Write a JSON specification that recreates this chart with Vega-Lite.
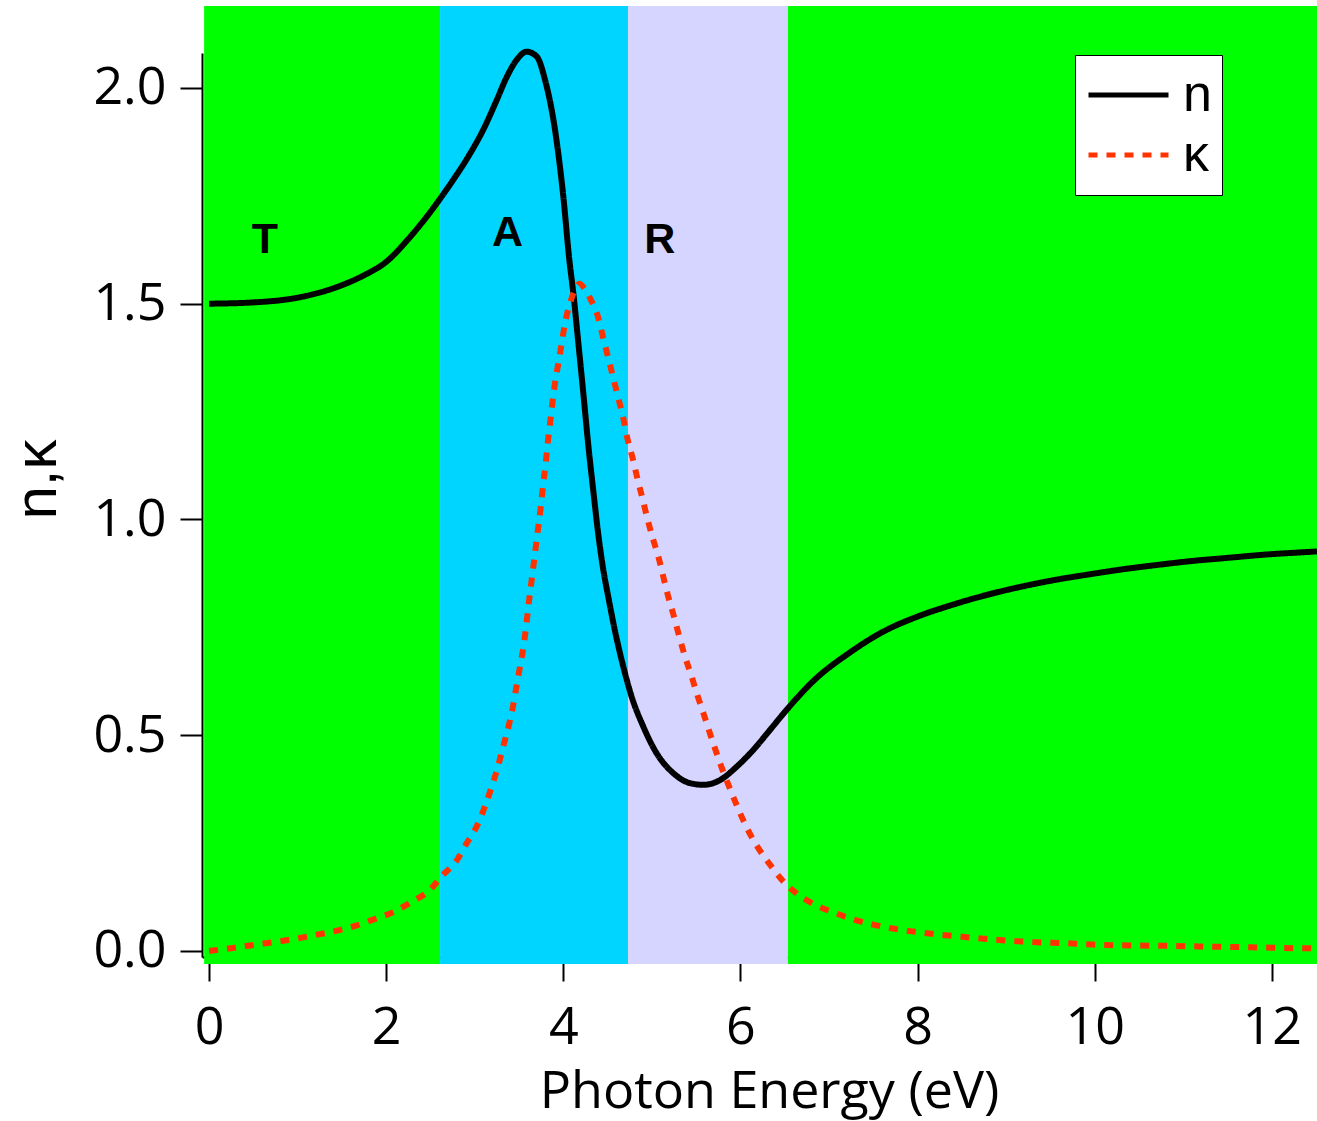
{
  "$schema": "https://vega.github.io/schema/vega-lite/v6.json",
  "width": 1115,
  "height": 904,
  "autosize": {"type": "none"},
  "padding": {"left": 202, "top": 53, "right": 0, "bottom": 164},
  "background": "white",
  "config": {
    "view": {"stroke": null},
    "font": "Open Sans",
    "axisX": {
      "grid": false, "tickSize": 24, "tickWidth": 2, "domainWidth": 2,
      "domainColor": "black", "tickColor": "black",
      "labelColor": "black", "labelFont": "Open Sans", "labelFontSize": 52,
      "labelBaseline": "alphabetic", "labelPadding": 62,
      "labelFlush": false, "labelOverlap": false,
      "titleFont": "Open Sans", "titleFontSize": 52, "titleFontWeight": "normal",
      "titleColor": "black", "titleX": 567, "titleY": 150,
      "titleBaseline": "alphabetic", "titleAlign": "center", "zindex": 1
    },
    "axisY": {
      "grid": false, "tickSize": 22, "tickWidth": 2, "domainWidth": 2,
      "domainColor": "black", "tickColor": "black",
      "labelColor": "black", "labelFont": "Open Sans", "labelFontSize": 52,
      "labelPadding": 14, "labelFlush": false, "labelOverlap": false,
      "titleFont": "Liberation Sans", "titleFontSize": 60, "titleFontWeight": "normal",
      "titleColor": "black", "titleX": -147, "titleY": 426,
      "titleBaseline": "alphabetic", "titleAlign": "center", "zindex": 1
    },
    "legend": {
      "orient": "none", "legendX": 873, "legendY": 2, "title": null,
      "symbolType": "stroke", "symbolSize": 6400, "symbolStrokeWidth": 5,
      "symbolOffset": 1, "labelOffset": 12, "clipHeight": 60,
      "labelFont": "Liberation Sans", "labelFontSize": 52, "labelColor": "black",
      "fillColor": "white", "strokeColor": "black",
      "padding": 10, "rowPadding": 0
    }
  },
  "datasets": {
    "bands": [
      {"region": "T", "from": -0.056, "to": 2.608},
      {"region": "A", "from": 2.608, "to": 4.73},
      {"region": "R", "from": 4.73, "to": 6.536},
      {"region": "T", "from": 6.536, "to": 12.6}
    ],
    "regionLabels": [
      {"label": "T", "energy": 0.63, "value": 1.648},
      {"label": "A", "energy": 3.37, "value": 1.663},
      {"label": "R", "energy": 5.09, "value": 1.648}
    ],
    "curves": [
      {"series": "n", "energy": 0, "value": 1.5},
      {"series": "n", "energy": 0.5, "value": 1.503},
      {"series": "n", "energy": 1.0, "value": 1.514},
      {"series": "n", "energy": 1.5, "value": 1.543},
      {"series": "n", "energy": 1.75, "value": 1.566},
      {"series": "n", "energy": 2.0, "value": 1.597},
      {"series": "n", "energy": 2.25, "value": 1.65},
      {"series": "n", "energy": 2.5, "value": 1.713},
      {"series": "n", "energy": 2.597, "value": 1.74},
      {"series": "n", "energy": 2.75, "value": 1.785},
      {"series": "n", "energy": 2.909, "value": 1.835},
      {"series": "n", "energy": 3.1, "value": 1.905},
      {"series": "n", "energy": 3.248, "value": 1.972},
      {"series": "n", "energy": 3.36, "value": 2.025},
      {"series": "n", "energy": 3.473, "value": 2.065},
      {"series": "n", "energy": 3.586, "value": 2.084},
      {"series": "n", "energy": 3.699, "value": 2.073},
      {"series": "n", "energy": 3.793, "value": 2.019},
      {"series": "n", "energy": 3.906, "value": 1.903},
      {"series": "n", "energy": 4.0, "value": 1.748},
      {"series": "n", "energy": 4.068, "value": 1.601},
      {"series": "n", "energy": 4.113, "value": 1.524},
      {"series": "n", "energy": 4.17, "value": 1.408},
      {"series": "n", "energy": 4.226, "value": 1.292},
      {"series": "n", "energy": 4.282, "value": 1.172},
      {"series": "n", "energy": 4.339, "value": 1.065},
      {"series": "n", "energy": 4.395, "value": 0.965},
      {"series": "n", "energy": 4.45, "value": 0.885},
      {"series": "n", "energy": 4.508, "value": 0.82},
      {"series": "n", "energy": 4.583, "value": 0.742},
      {"series": "n", "energy": 4.677, "value": 0.659},
      {"series": "n", "energy": 4.772, "value": 0.589},
      {"series": "n", "energy": 4.903, "value": 0.52},
      {"series": "n", "energy": 5.054, "value": 0.458},
      {"series": "n", "energy": 5.242, "value": 0.412},
      {"series": "n", "energy": 5.43, "value": 0.389},
      {"series": "n", "energy": 5.581, "value": 0.385},
      {"series": "n", "energy": 5.769, "value": 0.396},
      {"series": "n", "energy": 5.957, "value": 0.427},
      {"series": "n", "energy": 6.145, "value": 0.466},
      {"series": "n", "energy": 6.333, "value": 0.512},
      {"series": "n", "energy": 6.522, "value": 0.559},
      {"series": "n", "energy": 6.835, "value": 0.628},
      {"series": "n", "energy": 7.224, "value": 0.69},
      {"series": "n", "energy": 7.612, "value": 0.74},
      {"series": "n", "energy": 8.001, "value": 0.775},
      {"series": "n", "energy": 8.39, "value": 0.802},
      {"series": "n", "energy": 8.779, "value": 0.825},
      {"series": "n", "energy": 9.167, "value": 0.844},
      {"series": "n", "energy": 9.556, "value": 0.86},
      {"series": "n", "energy": 9.945, "value": 0.873},
      {"series": "n", "energy": 10.334, "value": 0.885},
      {"series": "n", "energy": 10.723, "value": 0.895},
      {"series": "n", "energy": 11.111, "value": 0.904},
      {"series": "n", "energy": 11.5, "value": 0.911},
      {"series": "n", "energy": 11.889, "value": 0.918},
      {"series": "n", "energy": 12.433, "value": 0.925},
      {"series": "n", "energy": 12.51, "value": 0.926},
      {"series": "κ", "energy": 0, "value": 0.0},
      {"series": "κ", "energy": 0.27, "value": 0.007},
      {"series": "κ", "energy": 0.5, "value": 0.014},
      {"series": "κ", "energy": 0.75, "value": 0.021},
      {"series": "κ", "energy": 0.97, "value": 0.028},
      {"series": "κ", "energy": 1.2, "value": 0.037},
      {"series": "κ", "energy": 1.42, "value": 0.046},
      {"series": "κ", "energy": 1.65, "value": 0.058},
      {"series": "κ", "energy": 1.87, "value": 0.074},
      {"series": "κ", "energy": 2.08, "value": 0.09},
      {"series": "κ", "energy": 2.29, "value": 0.114},
      {"series": "κ", "energy": 2.49, "value": 0.141},
      {"series": "κ", "energy": 2.64, "value": 0.176},
      {"series": "κ", "energy": 2.8, "value": 0.211},
      {"series": "κ", "energy": 2.91, "value": 0.25},
      {"series": "κ", "energy": 3.03, "value": 0.292},
      {"series": "κ", "energy": 3.12, "value": 0.338},
      {"series": "κ", "energy": 3.19, "value": 0.38},
      {"series": "κ", "energy": 3.26, "value": 0.426},
      {"series": "κ", "energy": 3.32, "value": 0.473},
      {"series": "κ", "energy": 3.38, "value": 0.519},
      {"series": "κ", "energy": 3.43, "value": 0.565},
      {"series": "κ", "energy": 3.47, "value": 0.612},
      {"series": "κ", "energy": 3.51, "value": 0.658},
      {"series": "κ", "energy": 3.55, "value": 0.705},
      {"series": "κ", "energy": 3.58, "value": 0.752},
      {"series": "κ", "energy": 3.605, "value": 0.798},
      {"series": "κ", "energy": 3.65, "value": 0.872},
      {"series": "κ", "energy": 3.7, "value": 0.955},
      {"series": "κ", "energy": 3.748, "value": 1.034},
      {"series": "κ", "energy": 3.774, "value": 1.084},
      {"series": "κ", "energy": 3.801, "value": 1.13},
      {"series": "κ", "energy": 3.823, "value": 1.176},
      {"series": "κ", "energy": 3.85, "value": 1.223},
      {"series": "κ", "energy": 3.876, "value": 1.269},
      {"series": "κ", "energy": 3.906, "value": 1.316},
      {"series": "κ", "energy": 3.944, "value": 1.362},
      {"series": "κ", "energy": 3.981, "value": 1.408},
      {"series": "κ", "energy": 4.019, "value": 1.455},
      {"series": "κ", "energy": 4.075, "value": 1.501},
      {"series": "κ", "energy": 4.13, "value": 1.532},
      {"series": "κ", "energy": 4.181, "value": 1.546},
      {"series": "κ", "energy": 4.24, "value": 1.535},
      {"series": "κ", "energy": 4.301, "value": 1.513},
      {"series": "κ", "energy": 4.395, "value": 1.467},
      {"series": "κ", "energy": 4.451, "value": 1.42},
      {"series": "κ", "energy": 4.508, "value": 1.374},
      {"series": "κ", "energy": 4.564, "value": 1.328},
      {"series": "κ", "energy": 4.621, "value": 1.281},
      {"series": "κ", "energy": 4.677, "value": 1.235},
      {"series": "κ", "energy": 4.722, "value": 1.189},
      {"series": "κ", "energy": 4.783, "value": 1.142},
      {"series": "κ", "energy": 4.835, "value": 1.096},
      {"series": "κ", "energy": 4.892, "value": 1.05},
      {"series": "κ", "energy": 4.948, "value": 1.003},
      {"series": "κ", "energy": 5.009, "value": 0.957},
      {"series": "κ", "energy": 5.073, "value": 0.914},
      {"series": "κ", "energy": 5.129, "value": 0.867},
      {"series": "κ", "energy": 5.185, "value": 0.821},
      {"series": "κ", "energy": 5.249, "value": 0.775},
      {"series": "κ", "energy": 5.31, "value": 0.728},
      {"series": "κ", "energy": 5.374, "value": 0.682},
      {"series": "κ", "energy": 5.449, "value": 0.636},
      {"series": "κ", "energy": 5.513, "value": 0.593},
      {"series": "κ", "energy": 5.588, "value": 0.547},
      {"series": "κ", "energy": 5.656, "value": 0.504},
      {"series": "κ", "energy": 5.731, "value": 0.458},
      {"series": "κ", "energy": 5.806, "value": 0.415},
      {"series": "κ", "energy": 5.899, "value": 0.367},
      {"series": "κ", "energy": 5.988, "value": 0.323},
      {"series": "κ", "energy": 6.085, "value": 0.28},
      {"series": "κ", "energy": 6.2, "value": 0.239},
      {"series": "κ", "energy": 6.334, "value": 0.2},
      {"series": "κ", "energy": 6.472, "value": 0.164},
      {"series": "κ", "energy": 6.631, "value": 0.134},
      {"series": "κ", "energy": 6.831, "value": 0.108},
      {"series": "κ", "energy": 7.053, "value": 0.089},
      {"series": "κ", "energy": 7.276, "value": 0.073},
      {"series": "κ", "energy": 7.498, "value": 0.061},
      {"series": "κ", "energy": 7.72, "value": 0.052},
      {"series": "κ", "energy": 7.951, "value": 0.045},
      {"series": "κ", "energy": 8.187, "value": 0.039},
      {"series": "κ", "energy": 8.409, "value": 0.035},
      {"series": "κ", "energy": 8.653, "value": 0.03},
      {"series": "κ", "energy": 8.876, "value": 0.026},
      {"series": "κ", "energy": 9.097, "value": 0.023},
      {"series": "κ", "energy": 9.342, "value": 0.02},
      {"series": "κ", "energy": 9.608, "value": 0.0185},
      {"series": "κ", "energy": 9.985, "value": 0.0147},
      {"series": "κ", "energy": 10.875, "value": 0.0116},
      {"series": "κ", "energy": 11.763, "value": 0.0085},
      {"series": "κ", "energy": 12.43, "value": 0.006},
      {"series": "κ", "energy": 12.51, "value": 0.006}
    ]
  },
  "layer": [
    {
      "data": {"name": "bands"},
      "mark": {"type": "rect"},
      "encoding": {
        "x": {
          "field": "from", "type": "quantitative", "title": "Photon Energy (eV)",
          "scale": {"domain": [-0.08, 12.51], "nice": false, "zero": false},
          "axis": {"values": [0, 2, 4, 6, 8, 10, 12], "format": "d"}
        },
        "x2": {"field": "to"},
        "y": {
          "datum": -0.03, "type": "quantitative", "title": "n,κ",
          "scale": {"domain": [-0.014, 2.081], "nice": false, "zero": false},
          "axis": {"values": [0, 0.5, 1, 1.5, 2], "format": ".1f"}
        },
        "y2": {"datum": 2.19},
        "fill": {
          "field": "region", "type": "nominal", "legend": null,
          "scale": {"domain": ["T", "A", "R"], "range": ["#00ff00", "#00d5ff", "#d5d5ff"]}
        }
      }
    },
    {
      "data": {"name": "curves"},
      "mark": {"type": "line", "strokeWidth": 6, "interpolate": "monotone", "strokeCap": "butt"},
      "encoding": {
        "x": {"field": "energy", "type": "quantitative", "title": "Photon Energy (eV)"},
        "y": {"field": "value", "type": "quantitative", "title": "n,κ"},
        "stroke": {
          "field": "series", "type": "nominal",
          "scale": {"domain": ["n", "κ"], "range": ["#000000", "#ff3300"]}
        },
        "strokeDash": {
          "field": "series", "type": "nominal",
          "scale": {"domain": ["n", "κ"], "range": [[1, 0], [9, 9]]}
        }
      }
    },
    {
      "data": {"name": "regionLabels"},
      "mark": {"type": "text", "font": "Liberation Sans", "fontWeight": "bold", "fontSize": 43, "align": "center", "baseline": "middle", "color": "black"},
      "encoding": {
        "x": {"field": "energy", "type": "quantitative", "title": "Photon Energy (eV)"},
        "y": {"field": "value", "type": "quantitative", "title": "n,κ"},
        "text": {"field": "label"}
      }
    }
  ]
}
